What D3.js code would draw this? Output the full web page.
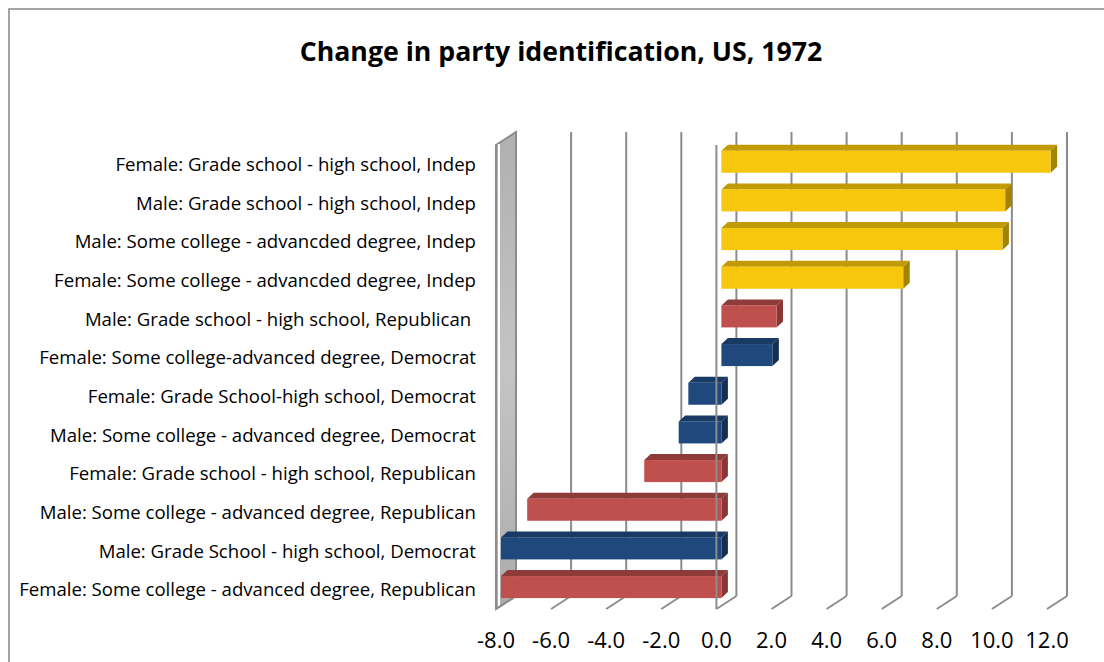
<!DOCTYPE html>
<html>
<head>
<meta charset="utf-8">
<script src="https://cdn.jsdelivr.net/npm/d3@7"></script>
<style>
  body { margin: 0; background: #fff; }
  text { font-family: "Open Sans", Lato, sans-serif; white-space: pre; }
</style>
</head>
<body>
<div id="root"></div>
<script>
const categories = [
  "Female: Grade school - high school, Indep",
  "Male: Grade school - high school, Indep",
  "Male: Some college - advancded degree, Indep",
  "Female: Some college - advancded degree, Indep",
  "Male: Grade school - high school, Republican ",
  "Female: Some college-advanced degree, Democrat",
  "Female: Grade School-high school, Democrat",
  "Male: Some college - advanced degree, Democrat",
  "Female: Grade school - high school, Republican",
  "Male: Some college - advanced degree, Republican",
  "Male: Grade School - high school, Democrat",
  "Female: Some college - advanced degree, Republican",
];
const values = [11.95, 10.3, 10.2, 6.6, 2.0, 1.85, -1.2, -1.55, -2.8, -7.05, -8.0, -8.0];
const parties = [
  "Indep", "Indep", "Indep", "Indep", "Republican", "Democrat",
  "Democrat", "Democrat", "Republican", "Republican", "Democrat", "Republican",
];
const tickValues = [-8, -6, -4, -2, 0, 2, 4, 6, 8, 10, 12];

const W = 1104, H = 662;
const depth = { dx: 20, dy: -13 };   // front plane -> back wall
const barDepth = { dx: 6.5, dy: -6 };
const plot = { top: 145, bottom: 609 }; // front plane

const colors = {
  Indep: { front: "#f6c70c", top: "#c19b05", side: "#a38302" },
  Republican: { front: "#c0504d", top: "#8e3b39", side: "#8a3634" },
  Democrat: { front: "#1f497d", top: "#183a64", side: "#152f52" },
};

const x = d3.scaleLinear().domain([-8, 12]).range([496, 1047]);
const y = d3.scaleBand().domain(categories).range([plot.top, plot.bottom]);
const yBar = d3.scaleBand().domain(categories).range([plot.top, plot.bottom])
  .paddingInner(0.43).paddingOuter(0.215);

const svg = d3.select("#root").append("svg")
  .attr("width", W).attr("height", H);

const defs = svg.append("defs");
const wallGrad = defs.append("linearGradient").attr("id", "wall")
  .attr("x1", 0).attr("x2", 0).attr("y1", 0).attr("y2", 1);
wallGrad.append("stop").attr("offset", 0).attr("stop-color", "#b0b0b0");
wallGrad.append("stop").attr("offset", 0.5).attr("stop-color", "#c4c4c4");
wallGrad.append("stop").attr("offset", 1).attr("stop-color", "#acacac");

// chart area border
svg.append("path")
  .attr("d", `M9,${H + 5}V9H${W + 5}`)
  .attr("fill", "none")
  .attr("stroke", "#868686")
  .attr("stroke-width", 1.5);

svg.append("text")
  .attr("x", 561).attr("y", 61)
  .attr("text-anchor", "middle")
  .attr("font-size", 26.7).attr("font-weight", "bold")
  .attr("fill", "#000")
  .text("Change in party identification, US, 1972");

const grid = svg.append("g").attr("stroke", "#8c8c8c").attr("fill", "none");

// side wall at the minimum
const xMin = x(-8);
grid.append("polygon")
  .attr("points", [
    [xMin, plot.top], [xMin + depth.dx, plot.top + depth.dy],
    [xMin + depth.dx, plot.bottom + depth.dy], [xMin, plot.bottom],
  ].join(" "))
  .attr("fill", "url(#wall)")
  .attr("stroke-width", 2);
grid.append("line")
  .attr("x1", xMin + 3).attr("x2", xMin + 3)
  .attr("y1", plot.top - 1).attr("y2", plot.bottom - 3)
  .attr("stroke", "#fff").attr("stroke-width", 2);

// back gridlines and floor lines
tickValues.forEach((v) => {
  const xb = x(v) + depth.dx;
  grid.append("line")
    .attr("x1", xb).attr("x2", xb)
    .attr("y1", plot.top + depth.dy).attr("y2", plot.bottom + depth.dy)
    .attr("stroke-width", 2);
  grid.append("line")
    .attr("x1", xb).attr("y1", plot.bottom + depth.dy)
    .attr("x2", x(v)).attr("y2", plot.bottom)
    .attr("stroke-width", 2);
});

// bars
const bx = depth.dx * 0.25, by = depth.dy * 0.2;
const bars = svg.append("g").selectAll("g").data(categories).join("g");

bars.each(function (c, i) {
  const g = d3.select(this);
  const col = colors[parties[i]];
  const xl = Math.min(x(0), x(values[i])) + bx;
  const xr = Math.max(x(0), x(values[i])) + bx;
  const yt = yBar(c) + by;
  const yb = yt + yBar.bandwidth();
  const { dx, dy } = barDepth;
  g.append("polygon")
    .attr("points", [[xl, yt], [xl + dx, yt + dy], [xr + dx, yt + dy], [xr, yt]].join(" "))
    .attr("fill", col.top);
  g.append("polygon")
    .attr("points", [[xr, yt], [xr + dx, yt + dy], [xr + dx, yb + dy], [xr, yb]].join(" "))
    .attr("fill", col.side);
  g.append("rect")
    .attr("x", xl).attr("y", yt)
    .attr("width", xr - xl).attr("height", yb - yt)
    .attr("fill", col.front);
});

// category axis line (front plane at 0)
svg.append("line")
  .attr("x1", x(0)).attr("x2", x(0))
  .attr("y1", plot.top).attr("y2", plot.bottom)
  .attr("stroke", "#8c8c8c").attr("stroke-width", 2);

// category labels
svg.append("g").selectAll("text").data(categories).join("text")
  .attr("x", 476)
  .attr("y", (d) => y(d) + y.bandwidth() / 2)
  .attr("dy", "0.35em")
  .attr("text-anchor", "end")
  .attr("font-size", 18.6)
  .attr("fill", "#000")
  .text((d) => d);

// value tick labels
svg.append("g").selectAll("text").data(tickValues).join("text")
  .attr("x", (d) => x(d))
  .attr("y", 640)
  .attr("dy", "0.35em")
  .attr("text-anchor", "middle")
  .attr("font-size", 22)
  .attr("fill", "#000")
  .text((d) => d3.format(".1f")(d).replace("−", "-"));
</script>
</body>
</html>
